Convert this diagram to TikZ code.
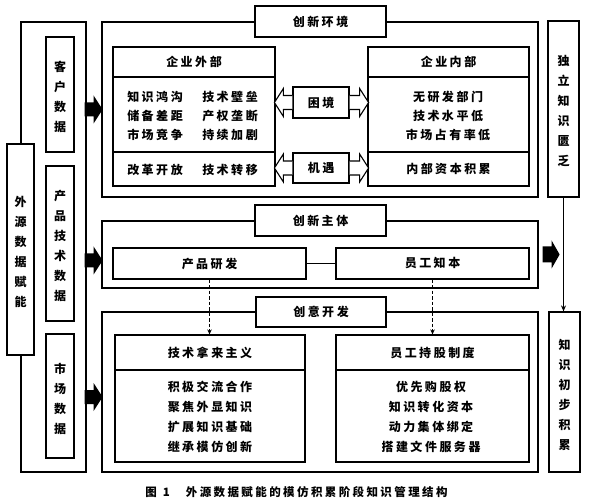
\documentclass[tikz,border=0pt]{standalone}
\usepackage{fontspec}
\newfontfamily\cjk{Noto Sans CJK SC}
\usetikzlibrary{fit,calc,arrows.meta}
\newdimen\chgap \chgap=2.5pt
\makeatletter
\newcommand\spc[1]{\spc@a#1\@nil}
\def\spc@a#1#2{#1\ifx\@nil#2\expandafter\@gobble\else\kern\chgap\relax\expandafter\spc@a\fi#2}
\makeatother
\begin{document}
\begin{tikzpicture}[x=1pt,y=-1pt,
  box/.style={draw, line width=1.2pt, inner sep=0pt, fill=white},
  txt/.style={inner sep=0pt, font=\cjk\bfseries\fontsize{12}{13}\selectfont},
  vtxt/.style={inner sep=0pt, align=center, yshift=-2.5pt, font=\cjk\bfseries\fontsize{12}{20}\selectfont},
  conn/.style={line width=1.1pt},
  dasharrow/.style={line width=1.3pt, dash pattern=on 3.5pt off 2pt, -{Stealth[length=5pt,width=4.5pt]}},
  blackarr/.style={fill=black},
  hollow/.style={draw, line width=1.1pt, fill=white, line join=miter}
  ]
\useasboundingbox[fill=white] (0,0) rectangle (591,502);

% left bracket and source data
\node[box, fit={(21,22)(86,472)}] (src) {};
\node[box, fit={(7,144)(34,355)}] (wy) {};
\node[vtxt] (wyt) at (wy) {外\\源\\数\\据\\赋\\能};
\node[box, fit={(46,37)(74,152)}] (kh) {};
\node[vtxt] (kht) at (kh) {客\\户\\数\\据};
\node[box, fit={(46,166)(74,321)}] (cpjs) {};
\node[vtxt] (cpjst) at (cpjs) {产\\品\\技\\术\\数\\据};
\node[box, fit={(46,334)(74,458)}] (sc) {};
\node[vtxt] (sct) at (sc) {市\\场\\数\\据};

% section 1
\node[box, fit={(102,22)(538,197)}] (s1) {};
\node[box, fit={(255,6)(386,37)}] (t1) {};
\node[txt] (t1t) at (t1) {\spc{创新环境}};
\node[box, fit={(113,47)(275,77)}] (wbh) {};
\node[txt] (wbht) at (wbh) {\spc{企业外部}};
\node[box, fit={(113,77)(275,152)}] (wbm) {};
\node[box, fit={(113,152)(275,186)}] (wbb) {};
\node[txt] (w1) at (155,97) {\spc{知识鸿沟}};
\node[txt] (w2) at (230,97) {\spc{技术壁垒}};
\node[txt] (w3) at (155,116) {\spc{储备差距}};
\node[txt] (w4) at (230,116) {\spc{产权垄断}};
\node[txt] (w5) at (155,135) {\spc{市场竞争}};
\node[txt] (w6) at (230,135) {\spc{持续加剧}};
\node[txt] (w7) at (155,170) {\spc{改革开放}};
\node[txt] (w8) at (230,170) {\spc{技术转移}};

\node[box, fit={(368,47)(529,77)}] (nbh) {};
\node[txt] (nbht) at (nbh) {\spc{企业内部}};
\node[box, fit={(368,77)(529,152)}] (nbm) {};
\node[box, fit={(368,152)(529,186)}] (nbb) {};
\node[txt] (nbbt) at (nbb) {\spc{内部资本积累}};
\node[txt] (n1) at (448,97) {\spc{无研发部门}};
\node[txt] (n2) at (448,116) {\spc{技术水平低}};
\node[txt] (n3) at (448,135) {\spc{市场占有率低}};

\node[box, fit={(293,87)(349,118)}] (kj) {};
\node[txt] (kjt) at (kj) {\spc{困境}};
\node[box, fit={(293,153)(349,183)}] (jy) {};
\node[txt] (jyt) at (jy) {\spc{机遇}};

% hollow arrows
\foreach \b in {kj,jy}{
  \draw[hollow] (\b.west) ++(0,-7) -- ++(-9,0) -- ++(0,-7) -- ++(-9,14) -- ++(9,14) -- ++(0,-7) -- ++(9,0);
  \draw[hollow] (\b.east) ++(0,-7) -- ++(10,0) -- ++(0,-7) -- ++(9,14) -- ++(-9,14) -- ++(0,-7) -- ++(-10,0);
}

% section 2
\node[box, fit={(102,221)(538,288)}] (s2) {};
\node[box, fit={(255,205)(386,236)}] (t2) {};
\node[txt] (t2t) at (t2) {\spc{创新主体}};
\node[box, fit={(113,248)(306,279)}] (yf) {};
\node[txt] (yft) at (yf) {\spc{产品研发}};
\node[box, fit={(336,248)(529,279)}] (zb) {};
\node[txt] (zbt) at (zb) {\spc{员工知本}};
\draw[conn] (yf) -- (zb);

% section 3
\node[box, fit={(102,312)(538,472)}] (s3) {};
\node[box, fit={(256,297)(386,327)}] (t3) {};
\node[txt] (t3t) at (t3) {\spc{创意开发}};
\node[box, fit={(115,335)(305,370)}] (nlh) {};
\node[txt] (nlht) at (nlh) {\spc{技术拿来主义}};
\node[box, fit={(115,370)(305,462)}] (nlb) {};
\node[txt] (l1) at (210,387) {\spc{积极交流合作}};
\node[txt] (l2) at (210,407) {\spc{聚焦外显知识}};
\node[txt] (l3) at (210,427) {\spc{扩展知识基础}};
\node[txt] (l4) at (210,447) {\spc{继承模仿创新}};
\node[box, fit={(336,335)(529,370)}] (cgh) {};
\node[txt] (cght) at (cgh) {\spc{员工持股制度}};
\node[box, fit={(336,370)(529,462)}] (cgb) {};
\node[txt] (g1) at (431,387) {\spc{优先购股权}};
\node[txt] (g2) at (431,407) {\spc{知识转化资本}};
\node[txt] (g3) at (431,427) {\spc{动力集体绑定}};
\node[txt] (g4) at (431,447) {\spc{搭建文件服务器}};

% dashed arrows
\draw[dasharrow] (yf.south) -- (yf.south |- nlh.north);
\draw[dasharrow] (zb.south) -- (zb.south |- cgh.north);

% right column
\node[box, fit={(548,21)(579,197)}] (dl) {};
\node[vtxt] (dlt) at (dl) {独\\立\\知\\识\\匮\\乏};
\node[box, fit={(549,312)(580,472)}] (cb) {};
\node[vtxt] (cbt) at (cb) {知\\识\\初\\步\\积\\累};
\draw[conn, -{Stealth[length=6pt,width=5pt]}] (dl.south) -- (dl.south |- cb.north);

% black arrows
\coordinate (a1) at ($(src.east |- s1.west)+(-2,0)$);
\coordinate (a2) at ($(src.east |- s2.west)+(-2,6)$);
\coordinate (a3) at ($(src.east |- s3.west)+(-2,5)$);
\foreach \a in {a1,a2,a3}{
  \fill[blackarr] (\a) ++(0,-7) -- ++(9,0) -- ++(0,-7) -- ++(9,14) -- ++(-9,14) -- ++(0,-7) -- ++(-9,0) -- cycle;
}
\coordinate (a4) at ($(s2.east)+(4,0)$);
\fill[blackarr] (a4) ++(0,-8) -- ++(9,0) -- ++(0,-6) -- ++(8,14) -- ++(-8,14) -- ++(0,-6) -- ++(-9,0) -- cycle;

% caption
\node[inner sep=0pt, font=\cjk\bfseries\fontsize{11.5}{12}\selectfont] (cap) at (296.5,492)
  {\chgap=2.4pt\spc{图}\hspace{6pt}1\hspace{16pt}\spc{外源数据赋能的模仿积累阶段知识管理结构}};
\end{tikzpicture}
\end{document}
